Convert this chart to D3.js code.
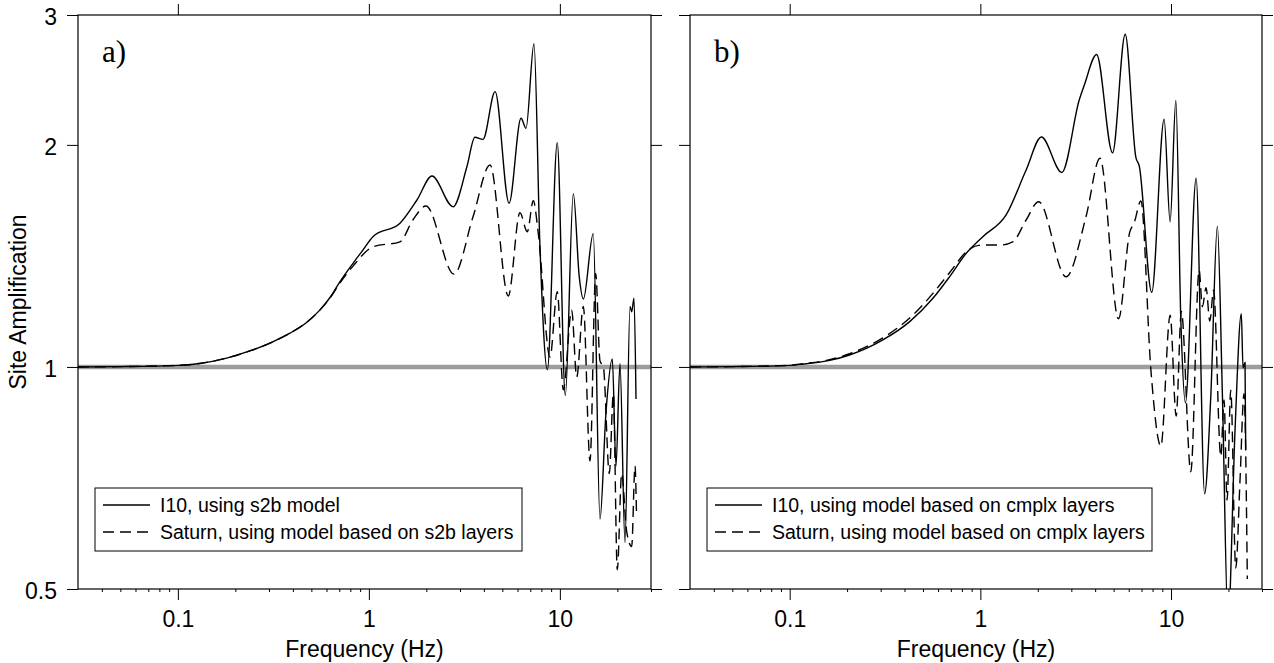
<!DOCTYPE html>
<html>
<head>
<meta charset="utf-8">
<script src="https://cdn.jsdelivr.net/npm/d3@7"></script>
<style>
  body { margin: 0; background: #fff; }
  svg { display: block; }
</style>
</head>
<body>
<svg id="chart" width="1274" height="663"></svg>
<script>
// --- donnees (frequence en Hz, amplification) ---
const freqA_i10 = [0.03, 0.05, 0.1, 0.13, 0.18, 0.24, 0.31, 0.386, 0.47, 0.555, 0.63, 0.706, 0.826, 0.93, 1.05, 1.455, 1.786, 2.14, 2.76, 3.26, 3.59, 3.96, 4.58, 5.42, 6.26, 6.65, 7.32, 7.87, 8.6, 9.69, 10.68, 11.76, 12.64, 13.27, 14.96, 16.22, 17.44, 18.82, 19.67, 20.64, 21.93, 23.29, 23.77, 24.44, 25.04];
const ampA_i10 = [1.0, 1.001, 1.005, 1.011, 1.028, 1.052, 1.08, 1.111, 1.148, 1.195, 1.245, 1.305, 1.382, 1.44, 1.502, 1.566, 1.684, 1.815, 1.649, 1.868, 2.048, 2.035, 2.362, 1.667, 2.173, 2.106, 2.742, 1.449, 0.991, 2.014, 0.915, 1.718, 1.323, 1.236, 1.516, 0.622, 0.869, 1.025, 0.734, 1.01, 0.578, 1.208, 1.188, 1.239, 0.905];

const freqA_sat = [0.03, 0.05, 0.1, 0.13, 0.18, 0.24, 0.31, 0.386, 0.47, 0.555, 0.63, 0.706, 0.826, 1.05, 1.455, 1.7, 1.99, 2.79, 3.51, 4.31, 5.37, 6.18, 6.75, 7.26, 7.71, 8.88, 9.69, 10.42, 11.53, 12.25, 13.27, 14.38, 15.4, 16.22, 16.9, 18.15, 19.05, 19.98, 21.07, 22.38, 23.77, 24.74, 25.18];
const ampA_sat = [1.0, 1.001, 1.005, 1.011, 1.028, 1.052, 1.08, 1.111, 1.148, 1.195, 1.243, 1.3, 1.37, 1.455, 1.478, 1.582, 1.653, 1.336, 1.598, 1.878, 1.248, 1.618, 1.525, 1.68, 1.516, 1.031, 1.265, 0.931, 1.194, 0.969, 1.208, 0.746, 1.339, 1.019, 1.0, 0.717, 0.92, 0.531, 0.717, 0.598, 0.571, 0.734, 0.634];

const freqB_i10 = [0.03, 0.05, 0.1, 0.113, 0.16, 0.206, 0.308, 0.426, 0.564, 0.689, 0.843, 1.03, 1.365, 1.738, 2.09, 2.675, 3.3, 3.51, 4.07, 4.935, 5.75, 6.54, 6.81, 7.92, 9.2, 9.89, 10.6, 11.26, 11.9, 13.54, 15.0, 16.16, 17.5, 18.59, 19.91, 21.66, 23.37, 23.86, 24.44, 24.65];
const ampB_i10 = [1.0, 1.001, 1.005, 1.008, 1.02, 1.038, 1.088, 1.152, 1.239, 1.325, 1.426, 1.502, 1.607, 1.849, 2.05, 1.835, 2.301, 2.411, 2.652, 1.951, 2.825, 1.924, 1.874, 1.262, 2.167, 1.573, 2.297, 1.155, 0.894, 1.802, 0.673, 0.911, 1.552, 0.92, 0.45, 0.821, 1.181, 0.997, 1.014, 0.772];

const freqB_sat = [0.03, 0.05, 0.1, 0.113, 0.16, 0.206, 0.308, 0.426, 0.564, 0.689, 0.877, 1.01, 1.259, 1.479, 1.738, 2.022, 2.814, 3.582, 4.241, 5.305, 6.073, 6.411, 6.95, 7.84, 8.845, 9.894, 10.64, 11.33, 12.7, 14.04, 14.6, 15.27, 15.97, 16.72, 18.24, 18.97, 19.67, 20.57, 21.85, 23.01, 24.15, 25.13];
const ampB_sat = [1.0, 1.001, 1.005, 1.009, 1.022, 1.042, 1.095, 1.165, 1.258, 1.342, 1.445, 1.463, 1.463, 1.478, 1.582, 1.675, 1.325, 1.598, 1.918, 1.162, 1.523, 1.569, 1.679, 0.991, 0.781, 1.175, 0.858, 1.189, 0.721, 1.353, 1.207, 1.281, 1.154, 1.271, 0.756, 0.902, 0.66, 0.93, 0.534, 0.703, 0.92, 0.516];

const xTicks = [0.1, 1, 10];
const xMinorTicks = [0.04, 0.05, 0.06, 0.07, 0.08, 0.09, 0.2, 0.3, 0.4, 0.5, 0.6, 0.7, 0.8, 0.9, 2, 3, 4, 5, 6, 7, 8, 9, 20, 30];
const yTicks = [0.5, 1, 2, 3];
const refLevel = 1;

const panelTags = ["a)", "b)"];
const legendA = ["I10, using s2b model", "Saturn, using model based on s2b layers"];
const legendB = ["I10, using model based on cmplx layers", "Saturn, using model based on cmplx layers"];

// --- mise en page ---
const plotTop = 15, plotBottom = 589;
const sansFont = "'Liberation Sans', Arial, Helvetica, sans-serif";
const svg = d3.select('#chart');

const panels = [
    { left: 78, right: 651, tag: panelTags[0], legend: legendA, legendRight: 522,
      series: [[freqA_i10, ampA_i10], [freqA_sat, ampA_sat]], yLabels: true },
    { left: 690, right: 1262, tag: panelTags[1], legend: legendB, legendRight: 1152,
      series: [[freqB_i10, ampB_i10], [freqB_sat, ampB_sat]], yLabels: false }
];

const y = d3.scaleLog().domain([0.5, 3]).range([plotBottom, plotTop]);

panels.forEach((p, i) => {
    const x = d3.scaleLog().domain([0.03, 30]).range([p.left, p.right]);
    const g = svg.append('g');

    const clipId = 'clip' + i;
    svg.append('clipPath').attr('id', clipId)
        .append('rect')
        .attr('x', p.left).attr('y', plotTop)
        .attr('width', p.right - p.left).attr('height', plotBottom - plotTop);

    // ligne de reference a 1
    g.append('line')
        .attr('x1', p.left).attr('x2', p.right)
        .attr('y1', y(refLevel)).attr('y2', y(refLevel))
        .attr('stroke', '#9d9d9d')
        .attr('stroke-width', 4.5);

    // courbes
    const line = d3.line()
        .x(d => x(d[0]))
        .y(d => y(d[1]))
        .curve(d3.curveMonotoneX);

    p.series.forEach(([fr, amp], k) => {
        const pts = fr.map((f, j) => [f, amp[j]]);
        g.append('path')
            .datum(pts)
            .attr('clip-path', 'url(#' + clipId + ')')
            .attr('fill', 'none')
            .attr('stroke', '#000')
            .attr('stroke-width', 1.4)
            .attr('stroke-dasharray', k === 1 ? '11,6' : null)
            .attr('d', line);
    });

    // axes
    const styleAxis = sel => {
        sel.select('.domain').remove();
        sel.selectAll('.tick line').attr('stroke', '#000').attr('stroke-width', 1);
        sel.selectAll('text')
            .attr('font-family', sansFont)
            .attr('font-size', 23)
            .attr('fill', '#000');
    };

    g.append('g')
        .attr('transform', 'translate(0,' + plotBottom + ')')
        .call(d3.axisBottom(x).tickValues(xTicks).tickSize(11).tickPadding(11).tickFormat(d => String(d)))
        .call(styleAxis);
    g.append('g')
        .attr('transform', 'translate(0,' + plotBottom + ')')
        .call(d3.axisBottom(x).tickValues(xMinorTicks).tickSize(3).tickFormat(''))
        .call(styleAxis);
    g.append('g')
        .attr('transform', 'translate(0,' + plotTop + ')')
        .call(d3.axisTop(x).tickValues(xTicks).tickSize(11).tickFormat(''))
        .call(styleAxis);
    g.append('g')
        .attr('transform', 'translate(' + p.left + ',0)')
        .call(d3.axisLeft(y).tickValues(yTicks).tickSize(11).tickPadding(10)
            .tickFormat(p.yLabels ? (d => String(d)) : ''))
        .call(styleAxis)
        .selectAll('text').attr('dy', '0.42em');
    g.append('g')
        .attr('transform', 'translate(' + p.right + ',0)')
        .call(d3.axisRight(y).tickValues(yTicks).tickSize(11).tickFormat(''))
        .call(styleAxis);

    // cadre
    g.append('rect')
        .attr('x', p.left).attr('y', plotTop)
        .attr('width', p.right - p.left).attr('height', plotBottom - plotTop)
        .attr('fill', 'none')
        .attr('stroke', '#000')
        .attr('stroke-width', 1.2);

    // etiquette a) / b)
    g.append('text')
        .attr('x', p.left + 24).attr('y', 62)
        .attr('font-family', "'Liberation Serif', 'Times New Roman', serif")
        .attr('font-size', 31)
        .text(p.tag);

    // legende
    const lx = p.left + 17, ly = 488;
    g.append('rect')
        .attr('x', lx).attr('y', ly)
        .attr('width', p.legendRight - lx).attr('height', 63)
        .attr('fill', '#fff')
        .attr('stroke', '#000')
        .attr('stroke-width', 1);
    p.legend.forEach((label, k) => {
        const yy = ly + 17 + k * 27;
        g.append('line')
            .attr('x1', lx + 8).attr('x2', lx + 55)
            .attr('y1', yy).attr('y2', yy)
            .attr('stroke', '#000')
            .attr('stroke-width', 1.4)
            .attr('stroke-dasharray', k === 1 ? '11,6' : null);
        g.append('text')
            .attr('x', lx + 65).attr('y', yy + 7)
            .attr('font-family', sansFont)
            .attr('font-size', 19.5)
            .text(label);
    });

    // titre de l'axe x
    svg.append('text')
        .attr('x', (p.left + p.right) / 2).attr('y', 657)
        .attr('text-anchor', 'middle')
        .attr('font-family', sansFont)
        .attr('font-size', 23)
        .text('Frequency (Hz)');
});

// titre de l'axe y
svg.append('text')
    .attr('transform', 'translate(26,' + (plotTop + plotBottom) / 2 + ') rotate(-90)')
    .attr('text-anchor', 'middle')
    .attr('font-family', sansFont)
    .attr('font-size', 23)
    .text('Site Amplification');
</script>
</body>
</html>
